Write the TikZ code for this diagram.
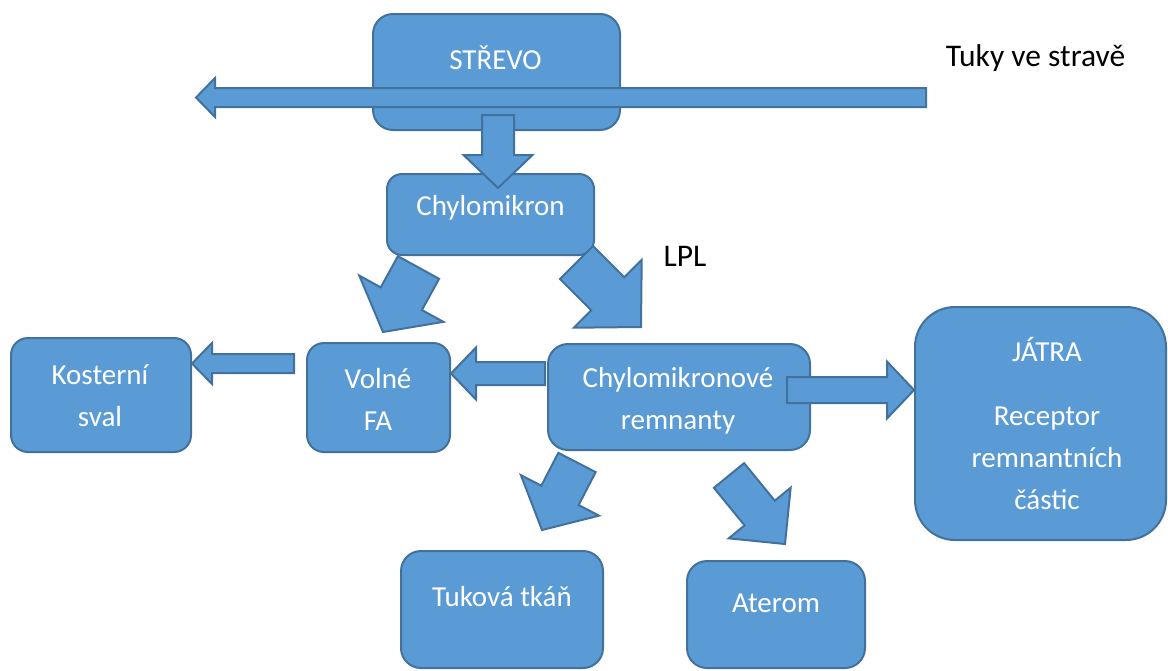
\documentclass[tikz,border=0pt]{standalone}
\usepackage{fontspec}
\setmainfont{Carlito}
\usetikzlibrary{calc}
\definecolor{boxfill}{HTML}{5B9BD5}
\definecolor{boxline}{HTML}{41719C}
\tikzset{
  roundbox/.style={draw=boxline, fill=boxfill, line width=2pt, inner sep=0pt, rounded corners=#1},
  roundbox/.default=20pt,
  barrowstyle/.style={draw=boxline, fill=boxfill, line width=2pt, line join=miter},
  boxtext/.style={text=white, font=\fontsize{29}{42}\selectfont, align=center, inner sep=0pt},
  plaintext/.style={text=black, font=\fontsize{31.5}{38}\selectfont, inner sep=0pt},
}
% block arrow: #1 tail, #2 tip, #3 shaft half width, #4 head half width, #5 head length
\newcommand{\blockarrow}[5]{%
  \coordinate (ba-c) at ($(#2)!#5!(#1)$);
  \draw[barrowstyle] ($(#1)!#3!90:(#2)$) -- ($(ba-c)!#3!90:(#2)$) -- ($(ba-c)!#4!90:(#2)$)
    -- (#2) -- ($(ba-c)!#4!-90:(#2)$) -- ($(ba-c)!#3!-90:(#2)$) -- ($(#1)!#3!-90:(#2)$) -- cycle;}
\begin{document}
\begin{tikzpicture}[x=1pt, y=-1pt]
\useasboundingbox (0,0) rectangle (1168,670);
\clip (0,0) rectangle (1168,670);
% boxes
\node[roundbox, minimum width=247pt, minimum height=116pt] (strevo) at (496.5,72) {};
\node[roundbox=15pt, minimum width=207pt, minimum height=81pt] (chylo) at (490.5,214.5) {};
\node[roundbox=17pt, minimum width=180pt, minimum height=114pt] (kost) at (101,395) {};
\node[roundbox=17pt, minimum width=143pt, minimum height=109pt] (volne) at (378.5,397.5) {};
\node[roundbox, minimum width=262pt, minimum height=106pt] (rem) at (679,397) {};
\node[roundbox=40pt, minimum width=251pt, minimum height=233pt] (jatra) at (1040.5,423.5) {};
\node[roundbox, minimum width=202pt, minimum height=117pt] (tuk) at (502,609.5) {};
\node[roundbox, minimum width=178pt, minimum height=107pt] (ater) at (776,614.5) {};
% arrow end points
\coordinate (a1s) at (926,97.5);   \coordinate (a1e) at (196,97.5);
\coordinate (a2s) at (498,115);    \coordinate (a2e) at (498,188);
\coordinate (a3s) at (418.5,267.5);\coordinate (a3e) at (383,332);
\coordinate (a4s) at (576.5,262.5);\coordinate (a4e) at (641,327);
\coordinate (a5s) at (294,363.5);  \coordinate (a5e) at (192,363.5);
\coordinate (a6s) at (545,373.5);  \coordinate (a6e) at (451,373.5);
\coordinate (a7s) at (787,390);    \coordinate (a7e) at (914,390);
\coordinate (a8s) at (577,462.5);  \coordinate (a8e) at (542,530);
\coordinate (a9s) at (729,475.5);  \coordinate (a9e) at (785,544);
% block arrows
\blockarrow{a1s}{a1e}{9.5pt}{19.5pt}{19pt}
\blockarrow{a2s}{a2e}{16pt}{34.5pt}{33pt}
\blockarrow{a3s}{a3e}{23.5pt}{48pt}{38pt}
\blockarrow{a4s}{a4e}{23.3pt}{48pt}{47pt}
\blockarrow{a5s}{a5e}{9.5pt}{20.5pt}{20pt}
\blockarrow{a6s}{a6e}{11.5pt}{26pt}{25pt}
\blockarrow{a7s}{a7e}{13pt}{28.5pt}{27pt}
\blockarrow{a8s}{a8e}{21pt}{44pt}{39pt}
\blockarrow{a9s}{a9e}{19.5pt}{40pt}{40pt}
% texts
\node[boxtext] (strevo-t) at (495.5,58) {STŘEVO};
\node[boxtext] (chylo-t) at (490.5,208) {Chylomikron};
\node[boxtext] (kost-t) at (100,396) {Kosterní\\sval};
\node[boxtext] (volne-t) at (378,399) {Volné\\FA};
\node[boxtext] (rem-t) at (678,401) {Chylomikronové\\remnanty};
\node[boxtext] (jatra-t) at (1047,349) {JÁTRA};
\node[boxtext, text depth=0pt] (jatra-r) at (1047,458) {Receptor\\remnantních\\částic};
\node[boxtext] (tuk-t) at (502,597) {Tuková tkáň};
\node[boxtext] (ater-t) at (776,603) {Aterom};
\node[plaintext] (tuky) at (1035.5,58) {Tuky ve stravě};
\node[plaintext] (lpl) at (685,256) {LPL};
\end{tikzpicture}
\end{document}
